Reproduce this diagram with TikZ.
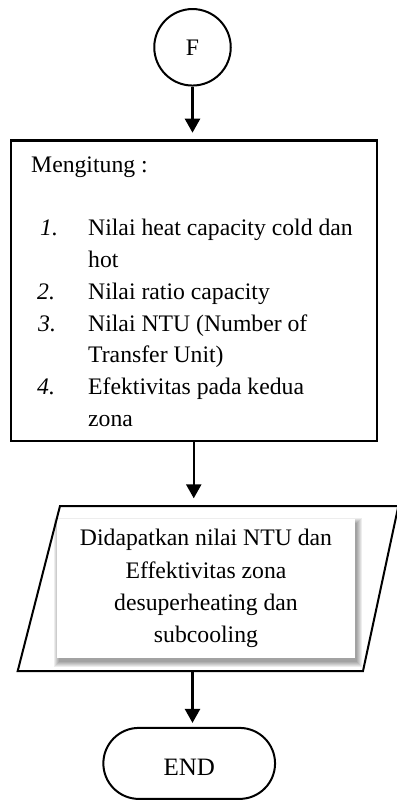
\documentclass[tikz,border=0pt]{standalone}
\usepackage{fontspec}
\setmainfont{Liberation Serif}
\usetikzlibrary{arrows.meta,calc}
\pgfdeclarelayer{back}
\pgfsetlayers{back,main}
\begin{document}
\begin{tikzpicture}[x=1pt,y=-1pt,
  txt/.style={font=\fontsize{23.7pt}{31.7pt}\selectfont, inner sep=0pt, anchor=base west},
  num/.style={txt, font=\fontsize{23.7pt}{31.7pt}\selectfont\itshape},
  arr/.style={line width=2.5pt, -{Triangle[width=15pt,length=14pt]}},
  procbox/.style={draw, line width=2.3pt, inner sep=0pt},
]
\useasboundingbox (0,0) rectangle (396,802);

% connector F
\node[circle, draw, line width=2pt, minimum size=76.5pt, inner sep=0pt,
      font=\fontsize{23.7pt}{28pt}\selectfont] (F) at (192.5,47.3) {F};

% process box
\node[procbox, minimum width=366.2pt, minimum height=300.2pt] (calc) at (193.75,290.75) {};
\node[txt] (t0) at (31,173) {Mengitung :};
\node[num] (n1) at (40,236) {1.};
\node[txt] (i1a) at (88,236) {Nilai heat capacity cold dan};
\node[txt] (i1b) at (88,267.7) {hot};
\node[num] (n2) at (37,299.4) {2.};
\node[txt] (i2) at (88,299.4) {Nilai ratio capacity};
\node[num] (n3) at (38,331.1) {3.};
\node[txt] (i3a) at (88,331.1) {Nilai NTU (Number of};
\node[txt] (i3b) at (88,362.8) {Transfer Unit)};
\node[num] (n4) at (37,394.5) {4.};
\node[txt] (i4a) at (88,394.5) {Efektivitas pada kedua};
\node[txt] (i4b) at (88,426.2) {zona};

% output (parallelogram) with inner shadowed text box
\node[inner sep=0pt, outer sep=0pt, minimum width=380.7pt, minimum height=165pt] (io) at (208.05,588.5) {};
\node[fill=white, minimum width=298pt, minimum height=139pt, inner sep=0pt, align=center,
      font=\fontsize{23.7pt}{32.2pt}\selectfont] (out) at (206,588.5)
      {Didapatkan nilai NTU dan\\Effektivitas zona\\desuperheating dan\\subcooling};
\draw[line width=2pt] ($(io.north west)+(42.3,0)$) -- (io.north east)
      -- ($(io.south east)+(-35.4,0)$) -- (io.south west) -- cycle;

\begin{pgfonlayer}{back}
  \fill[white] (0,0) rectangle (396,802);
  \foreach \e in {0,...,5}
    \fill[black, opacity=0.07] ($(out.north west)+(2-\e,4-\e)$) rectangle ($(out.south east)+(2+\e,4+\e)$);
\end{pgfonlayer}

% terminator
\node[draw, line width=2pt, rounded corners=35.5pt, minimum width=171.7pt, minimum height=71pt,
      inner sep=0pt, font=\fontsize{25pt}{30pt}\selectfont, text height=23.4pt, text depth=0pt]
      (end) at (189.2,763.4) {END};

% flow arrows
\draw[arr, shorten >=6.8pt] (F.south) -- (F.south |- calc.north);
\draw[arr, shorten >=7.7pt] (calc.south) -- (calc.south |- io.north);
\draw[arr, shorten >=4pt] (F.south |- io.south) -- (F.south |- end.north);
\end{tikzpicture}
\end{document}
